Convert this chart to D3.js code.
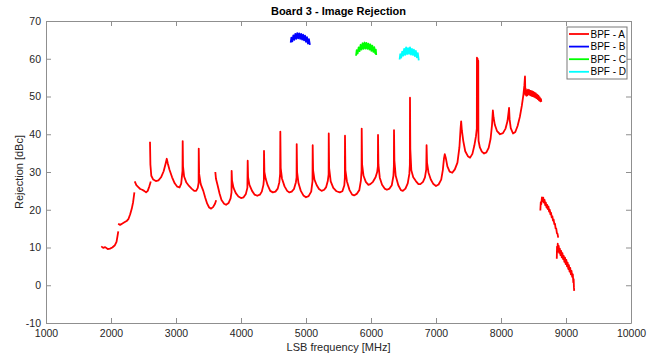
<!DOCTYPE html>
<html>
<head>
<meta charset="utf-8">
<script src="https://d3js.org/d3.v7.min.js"></script>
<style>
  body { margin: 0; background: #fff; }
  text { font-family: "Liberation Sans", Arial, sans-serif; }
</style>
</head>
<body>
<div id="chart"></div>
<script>
// tick values
const xTicks = [1000, 2000, 3000, 4000, 5000, 6000, 7000, 8000, 9000, 10000];
const yTicks = [-10, 0, 10, 20, 30, 40, 50, 60, 70];

// BPF - A, [freq MHz, rejection dBc], null = gap in the sweep
const bpfA = [
  [1850,10.3],[1880,9.9],[1910,10.1],[1950,9.6],[1985,9.7],[2020,10.0],[2060,10.6],[2085,11.5],[2100,13.0],[2112,14.3], null,
  [2110,16.3],[2140,16.0],[2170,16.3],[2200,16.6],[2240,17.0],[2270,17.6],[2295,18.8],[2320,20.3],[2340,22.0],[2360,24.6], null,
  [2365,27.5],[2390,26.5],[2420,26.0],[2450,25.5],[2480,25.3],[2510,25.0],[2540,24.6],[2565,25.0],[2590,26.2],[2612,27.5], null,
  [2600,38.0],[2606,32.0],[2620,29.0],[2650,28.0],[2690,27.6],[2730,27.8],[2770,28.6],[2810,30.2],[2840,32.2],[2858,33.5],
  [2875,32.2],[2900,30.6],[2940,28.6],[2980,27.0],[3020,26.1],[3055,25.9],[3080,26.9],[3100,30.3],
  [3103,38.2],[3108,31.5],[3125,28.8],[3160,27.2],[3200,26.3],[3240,25.6],[3280,25.0],[3310,25.0],[3335,25.8],[3348,27.2],
  [3350,36.2],[3356,29.5],[3380,26.8],[3420,25.0],[3450,23.2],[3480,21.6],[3510,20.6],[3540,20.3],[3570,20.7],[3600,21.6],[3618,22.5], null,
  [3605,30.0],[3615,28.2],[3640,26.5],[3670,24.3],[3700,22.6],[3740,21.6],[3770,21.3],[3810,21.8],[3840,23.0],[3854,24.6],
  [3856,30.3],[3862,27.8],[3885,25.8],[3920,24.4],[3960,23.5],[4000,23.1],[4040,23.3],[4075,24.2],[4098,25.8],
  [4103,33.0],[4109,28.6],[4130,26.6],[4170,25.0],[4210,24.0],[4250,23.7],[4290,24.0],[4320,24.8],[4345,26.6],[4352,28.0],
  [4354,35.6],[4360,30.0],[4380,28.2],[4410,26.5],[4450,25.0],[4490,24.6],[4530,24.8],[4565,25.6],[4590,27.3],[4602,29.5],
  [4605,40.7],[4611,31.0],[4630,28.3],[4670,26.2],[4710,25.0],[4745,24.6],[4780,24.8],[4815,25.5],[4845,27.3],[4855,28.6],
  [4857,37.4],[4863,30.0],[4885,27.0],[4920,25.0],[4960,23.8],[5000,23.3],[5040,23.6],[5080,24.8],[5100,27.5],
  [5103,37.1],[5109,30.5],[5130,28.0],[5165,26.5],[5200,25.5],[5240,25.0],[5280,25.3],[5310,26.0],[5335,27.6],[5348,29.4],
  [5350,40.2],[5356,31.0],[5380,27.5],[5420,25.8],[5470,24.9],[5520,24.6],[5560,24.9],[5590,26.5],[5598,28.5],
  [5600,39.6],[5606,30.5],[5630,27.5],[5670,25.2],[5710,24.0],[5740,23.8],[5780,24.2],[5820,25.2],[5845,27.8],[5855,30.5],
  [5857,41.5],[5863,32.0],[5885,29.0],[5920,27.4],[5960,26.6],[5990,26.8],[6030,27.4],[6070,28.6],[6095,30.0],[6106,31.5],
  [6108,39.8],[6114,32.0],[6135,28.5],[6170,26.6],[6210,25.6],[6245,25.3],[6285,25.6],[6320,26.5],[6345,29.0],[6352,31.6],
  [6354,41.1],[6360,33.0],[6380,29.0],[6420,26.5],[6460,25.2],[6490,25.0],[6530,25.6],[6565,27.0],[6590,29.5],[6598,32.0],
  [6600,49.7],[6605,36.0],[6620,30.5],[6650,28.6],[6690,27.6],[6730,26.8],[6760,26.8],[6800,27.4],[6830,28.6],[6850,30.7],
  [6855,37.1],[6862,32.5],[6885,29.8],[6920,28.0],[6960,26.8],[7000,26.3],[7040,26.7],[7080,28.0],[7105,30.5],[7122,33.5],
  [7135,34.7],[7150,33.8],[7175,31.5],[7210,30.1],[7250,29.8],[7290,30.7],[7330,32.5],[7360,36.5],[7378,41.5],[7387,43.4],
  [7398,41.0],[7420,38.2],[7450,35.5],[7490,34.2],[7525,33.8],[7560,34.8],[7590,37.0],[7615,39.5],[7628,41.5],
  [7630,60.3],[7635,59.5],[7640,60.0],[7645,58.8],[7650,59.5],[7652,41.0],[7655,38.2],[7675,36.5],[7705,35.4],[7740,34.9],
  [7775,35.2],[7810,36.4],[7840,38.8],[7862,42.5],[7875,46.3],[7885,44.5],[7905,42.5],[7940,40.8],[7985,40.0],[8030,40.3],
  [8070,41.5],[8100,43.5],[8118,46.0],[8124,47.0],[8132,44.0],[8150,41.6],[8185,40.2],[8220,40.6],[8255,42.2],[8290,44.6],
  [8320,47.5],[8345,50.5],[8360,53.0],[8369,55.3],[8375,50.5],[8382,52.0],[8390,50.2],
  [8395,51.6],[8405,50.3],[8415,51.8],[8425,50.6],[8435,51.7],[8445,50.4],[8455,51.5],[8465,50.2],[8475,51.4],[8485,50.1],
  [8495,51.2],[8505,50.0],[8515,51.0],[8525,49.8],[8535,50.8],[8545,49.6],[8555,50.5],[8565,49.3],[8575,50.2],[8585,49.0],
  [8595,49.8],[8605,48.7],[8615,49.3],[8620,48.6], null,
  [8605,19.8],[8612,22.0],[8620,21.5],[8630,23.3],[8640,22.2],[8650,23.2],[8660,21.9],[8670,22.6],[8680,21.2],[8690,21.9],
  [8700,20.6],[8710,21.3],[8720,20.2],[8730,20.8],[8740,19.5],[8750,20.0],[8760,18.8],[8770,19.2],[8780,18.0],[8790,18.3],
  [8800,17.1],[8810,17.4],[8820,16.2],[8830,16.3],[8840,15.1],[8850,15.0],[8860,13.8],[8870,13.6],[8880,12.6], null,
  [8858,7.0],[8862,10.2],[8868,8.8],[8873,11.0],[8880,9.2],[8888,10.4],[8895,8.6],[8905,9.7],[8915,8.0],[8925,9.1],
  [8935,7.4],[8945,8.5],[8955,6.9],[8965,7.8],[8975,6.2],[8985,7.3],[8995,5.6],[9005,6.7],[9015,5.0],[9025,6.0],
  [9035,4.3],[9045,5.3],[9055,3.6],[9065,4.6],[9075,2.9],[9085,3.8],[9095,2.2],[9105,2.9],[9112,0.8],[9118,1.6],
  [9122,-0.5],[9126,-1.5]
];

// BPF - B
const bpfB = [
  [4765,64.3],[4775,65.6],[4790,64.6],[4805,66.2],[4820,65.0],[4835,66.6],[4850,65.3],[4865,66.8],[4880,65.4],[4895,66.7],
  [4910,65.3],[4925,66.6],[4940,65.1],[4955,66.4],[4970,64.9],[4985,66.1],[5000,64.5],[5015,65.7],[5030,64.0],[5045,65.2],[5060,63.7]
];

// BPF - C
const bpfC = [
  [5770,60.8],[5780,62.3],[5795,61.4],[5810,63.0],[5825,62.0],[5840,63.7],[5855,62.4],[5870,64.1],[5885,62.6],[5900,64.3],
  [5915,62.7],[5930,64.2],[5945,62.6],[5960,64.0],[5975,62.4],[5990,63.8],[6005,62.1],[6020,63.5],[6035,61.8],[6050,63.1],
  [6065,61.4],[6075,62.4],[6080,61.0]
];

// BPF - D
const bpfD = [
  [6440,59.8],[6450,61.2],[6465,60.3],[6480,61.9],[6495,60.8],[6510,62.6],[6525,61.0],[6540,63.0],[6555,61.2],[6570,62.8],
  [6585,61.3],[6600,63.0],[6615,61.1],[6630,62.6],[6645,61.0],[6660,62.4],[6675,60.7],[6690,62.1],[6705,60.4],[6720,61.5],[6735,59.6]
];

const seriesNames = ["BPF - A", "BPF - B", "BPF - C", "BPF - D"];
const seriesColors = ["#ff0000", "#0000ff", "#00ff00", "#00ffff"];
const seriesData = [bpfA, bpfB, bpfC, bpfD];

const margin = { top: 21, right: 28, bottom: 32, left: 46 },
  width = 659 - margin.left - margin.right,
  height = 355 - margin.top - margin.bottom;

const svg = d3.select("#chart").append("svg")
  .attr("width", 659).attr("height", 355)
  .append("g")
  .attr("transform", `translate(${margin.left},${margin.top})`);

const x = d3.scaleLinear().domain([1000, 10000]).range([0, width]);
const y = d3.scaleLinear().domain([-10, 70]).range([height, 0]);

// axes, MATLAB style box with inward ticks
const axisColor = "#8f8f8f";
function styleAxis(g) {
  g.selectAll(".domain").attr("stroke", axisColor);
  g.selectAll(".tick line").attr("stroke", axisColor);
  g.selectAll(".tick text").attr("fill", "#262626").style("font-size", "10.5px")
    .style("font-family", "'Liberation Sans', Arial, sans-serif");
}
svg.append("g").attr("transform", `translate(0,${height})`)
  .call(d3.axisBottom(x).tickValues(xTicks).tickSizeInner(-5).tickSizeOuter(0).tickPadding(7).tickFormat(d => String(d)))
  .call(styleAxis);
svg.append("g")
  .call(d3.axisTop(x).tickValues(xTicks).tickSizeInner(-5).tickSizeOuter(0).tickFormat(""))
  .call(styleAxis);
svg.append("g")
  .call(d3.axisLeft(y).tickValues(yTicks).tickSizeInner(-5).tickSizeOuter(0).tickPadding(5).tickFormat(d => String(d)))
  .call(styleAxis);
svg.append("g").attr("transform", `translate(${width},0)`)
  .call(d3.axisRight(y).tickValues(yTicks).tickSizeInner(-5).tickSizeOuter(0).tickFormat(""))
  .call(styleAxis);

// lines
const line = d3.line()
  .defined(d => d !== null)
  .x(d => x(d[0]))
  .y(d => y(d[1]));

const plot = svg.append("g");
seriesData.forEach((data, i) => {
  plot.append("path")
    .datum(data)
    .attr("fill", "none")
    .attr("stroke", seriesColors[i])
    .attr("stroke-width", 1.8)
    .attr("stroke-linejoin", "round")
    .attr("d", line);
});

// title and axis labels
svg.append("text")
  .attr("x", width / 2).attr("y", -6)
  .attr("text-anchor", "middle")
  .style("font-size", "11px").style("font-weight", "bold").attr("fill", "#000")
  .text("Board 3 - Image Rejection");

svg.append("text")
  .attr("x", width / 2).attr("y", height + 28)
  .attr("text-anchor", "middle")
  .style("font-size", "11px").attr("fill", "#262626")
  .text("LSB frequency [MHz]");

svg.append("text")
  .attr("transform", "rotate(-90)")
  .attr("x", -height / 2).attr("y", -23)
  .attr("text-anchor", "middle")
  .style("font-size", "11px").attr("fill", "#262626")
  .text("Rejection [dBc]");

// legend
const legend = svg.append("g").attr("transform", `translate(${width - 64},6)`);
legend.append("rect")
  .attr("width", 60).attr("height", 52)
  .attr("fill", "#fff").attr("stroke", "#7a7a7a").attr("stroke-width", 1);
seriesNames.forEach((name, i) => {
  const row = legend.append("g").attr("transform", `translate(0,${7 + i * 12.6})`);
  row.append("line").attr("x1", 2).attr("x2", 22).attr("y1", 0).attr("y2", 0)
    .attr("stroke", seriesColors[i]).attr("stroke-width", 1.8);
  row.append("text").attr("x", 23.5).attr("y", 0).attr("dy", "0.35em")
    .style("font-size", "10px").attr("fill", "#000").text(name);
});
</script>
</body>
</html>
